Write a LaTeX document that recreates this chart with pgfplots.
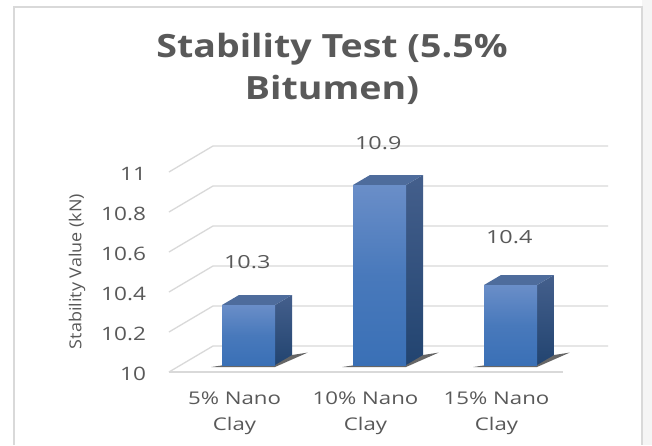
\documentclass[border=0pt]{standalone}
\usepackage{pgfplots}
\pgfplotsset{compat=1.18}
\usepackage{fontspec}
\setmainfont{Open Sans}
\definecolor{grid}{HTML}{D9D9D9}
\definecolor{txt}{HTML}{595959}
\definecolor{fronttop}{HTML}{6A8EC8}
\definecolor{frontbot}{HTML}{3A70B6}
\definecolor{sidetop}{HTML}{445F8C}
\definecolor{sidebot}{HTML}{224470}
\definecolor{topc}{HTML}{4E6C9C}
\pgfplotsset{
 frontface/.style={draw=none,top color=fronttop,bottom color=frontbot,middle color=frontbot!70!fronttop},
 sideface/.style={draw=none,top color=sidetop,bottom color=sidebot},
 topface/.style={draw=none,fill=topc},
 shadowface/.style={draw=none,fill=black!75,fill opacity=0.8},
 gridl/.style={draw=grid,line width=1.3pt},
}
\begin{document}
\begin{tikzpicture}[x=1pt,y=1pt]
\useasboundingbox (0,0) rectangle (652,445);
\fill[white] (0,0) rectangle (652,445);
\fill[black!4] (642,0) rectangle (652,445);
\draw[grid,line width=2.2pt] (14,0) -- (14,438) -- (642,438) -- (642,0);
\begin{axis}[
 at={(171pt,80pt)},anchor=south west,
 scale only axis,width=437pt,height=219pt,
 xmin=-0.5916,xmax=2.744,ymin=10,ymax=11.095,
 clip=false,
 axis line style={draw=none},
 tick style={draw=none},
 xtick={0,1,2},
 xticklabels={{5\% Nano\\Clay},{10\% Nano\\Clay},{15\% Nano\\Clay}},
 xticklabel style={align=center,font=\fontsize{17.5}{26}\selectfont,text=txt,xscale=1.27,xshift=-11pt,yshift=-23pt},
 ytick={10,10.2,10.4,10.6,10.8,11},
 yticklabel style={font=\fontsize{18.5}{20}\selectfont,text=txt,xscale=1.22,yshift=-8.5pt,/pgf/number format/assume math mode=true},
 y tick label style={xshift=-17pt},
 ylabel={Stability Value (kN)},
 ylabel style={font=\fontsize{16.5}{18}\selectfont,text=txt,xscale=1.09,at={(axis description cs:-0.215,0.427)},anchor=center},
]
% wall and side grid lines
\addplot[gridl] coordinates {(-0.607,9.965) (-0.271,10.095) (2.744,10.095)};
\addplot[gridl] coordinates {(-0.607,10.165) (-0.271,10.295) (2.744,10.295)};
\addplot[gridl] coordinates {(-0.607,10.365) (-0.271,10.495) (2.744,10.495)};
\addplot[gridl] coordinates {(-0.607,10.565) (-0.271,10.695) (2.744,10.695)};
\addplot[gridl] coordinates {(-0.607,10.765) (-0.271,10.895) (2.744,10.895)};
\addplot[gridl] coordinates {(-0.607,10.965) (-0.271,11.095) (2.744,11.095)};
\addplot[gridl] coordinates {(-0.607,9.965) (2.401,9.965)};
% shadows
\addplot[shadowface] coordinates {(-0.2834,9.99) (0.2023,9.99) (0.4513,10.062) (0.3321,10.05)} -- cycle;
\addplot[shadowface] coordinates {(0.7166,9.99) (1.2023,9.99) (1.4513,10.062) (1.3321,10.05)} -- cycle;
\addplot[shadowface] coordinates {(1.7166,9.99) (2.2023,9.99) (2.4513,10.062) (2.3321,10.05)} -- cycle;
% bar 1: 10.3
\addplot[sideface] coordinates {(0.2023,10) (0.3321,10.05) (0.3321,10.35) (0.2023,10.3)} -- cycle;
\addplot[topface] coordinates {(-0.2023,10.3) (0.2023,10.3) (0.3321,10.35) (-0.0725,10.35)} -- cycle;
\addplot[frontface] coordinates {(-0.2023,10) (0.2023,10) (0.2023,10.3) (-0.2023,10.3)} -- cycle;
% bar 2: 10.9
\addplot[sideface] coordinates {(1.2023,10) (1.3321,10.05) (1.3321,10.95) (1.2023,10.9)} -- cycle;
\addplot[topface] coordinates {(0.7977,10.9) (1.2023,10.9) (1.3321,10.95) (0.9275,10.95)} -- cycle;
\addplot[frontface] coordinates {(0.7977,10) (1.2023,10) (1.2023,10.9) (0.7977,10.9)} -- cycle;
% bar 3: 10.4
\addplot[sideface] coordinates {(2.2023,10) (2.3321,10.05) (2.3321,10.45) (2.2023,10.4)} -- cycle;
\addplot[topface] coordinates {(1.7977,10.4) (2.2023,10.4) (2.3321,10.45) (1.9275,10.45)} -- cycle;
\addplot[frontface] coordinates {(1.7977,10) (2.2023,10) (2.2023,10.4) (1.7977,10.4)} -- cycle;
% data labels
\node[font=\fontsize{18}{20}\selectfont,text=txt,xscale=1.3] at (axis cs:-0.01,10.515) {10.3};
\node[font=\fontsize{18}{20}\selectfont,text=txt,xscale=1.3] at (axis cs:-0.01+1,11.11) {10.9};
\node[font=\fontsize{18}{20}\selectfont,text=txt,xscale=1.3] at (axis cs:1.99,10.64) {10.4};
\end{axis}
\node[font=\bfseries\fontsize{32}{42}\selectfont,text=txt,align=center,xscale=1.173] at (332,376) {Stability Test (5.5\%\\Bitumen)};
\end{tikzpicture}
\end{document}
